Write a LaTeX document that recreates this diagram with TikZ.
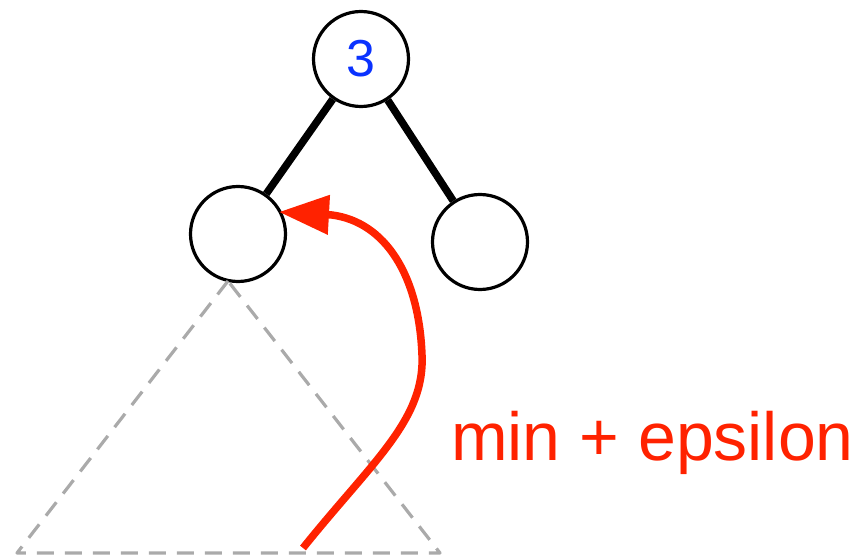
\documentclass[tikz,border=0pt]{standalone}
\usepackage{fontspec}
\setmainfont{Liberation Sans}
\usetikzlibrary{arrows.meta,positioning,calc}
\definecolor{keyblue}{RGB}{10,50,255}
\definecolor{hotred}{RGB}{255,34,0}
\definecolor{subgray}{RGB}{170,170,170}

\begin{document}
\begin{tikzpicture}[x=1pt, y=-1pt,
  treenode/.style={circle, draw, line width=3.2pt, inner sep=0pt,
    minimum size=95pt, font=\fontsize{52}{60}\selectfont},
  edge/.style={line width=7.5pt},
  subtree/.style={draw=subgray, line width=3.2pt, dash pattern=on 17pt off 11pt,
    line join=round},
  jump/.style={-{Triangle[length=50pt,width=38pt]}, hotred, line width=7.5pt},
  lbl/.style={font=\fontsize{68}{80}\selectfont, text=hotred,
    anchor=base west, inner sep=0pt},
]
\useasboundingbox (0,0) rectangle (863,559);

\node[treenode, text=keyblue] (root) at (361,59)  {3};
\node[treenode]               (left) at (238,234) {};
\node[treenode]               (right) at (480,242) {};

\draw[edge] (root) -- (left);
\draw[edge] (root) -- (right);

% dashed subtree under the left child
\coordinate (apex) at (228,281);
\coordinate (botL) at (17,553);
\coordinate (botR) at (440,553);
\draw[subtree] (apex) -- (botL) -- (botR) -- cycle;

\coordinate (start) at (303,548);
\coordinate (tip)   at (279,212);
\draw[jump] (start) .. controls (372,462) and (425,420) .. (422,355)
  .. controls (419,275) and (385,222) .. (332,215) -- (tip);

\node[lbl] (eps) at (451,460) {min + epsilon};
\end{tikzpicture}
\end{document}
